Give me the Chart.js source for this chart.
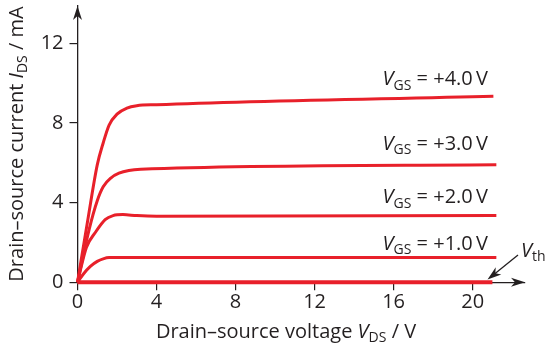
<!DOCTYPE html>
<html>
<head>
<meta charset="utf-8">
<script src="https://cdn.jsdelivr.net/npm/chart.js@4/dist/chart.umd.min.js"></script>
<style>
  html, body { margin: 0; padding: 0; background: #fff; }
  #wrap { width: 549px; height: 348px; position: relative; }
</style>
</head>
<body>
<div id="wrap"><canvas id="chart"></canvas></div>
<script>
// drain-source voltage (V) / current (mA) for each gate voltage
const vds4 = [0, 0.5, 1, 1.3, 1.6, 2, 2.5, 3, 4, 21.05];
const ids4 = [0, 3.0, 5.9, 7.0, 7.9, 8.45, 8.75, 8.87, 8.92, 9.35];
const vds3 = [0, 0.6, 1, 1.3, 1.7, 2.1, 2.6, 3.2, 21.2];
const ids3 = [0, 2.7, 4.1, 4.8, 5.25, 5.48, 5.62, 5.68, 5.9];
const vds2 = [0, 0.45, 0.9, 1.4, 1.8, 2.3, 3, 4, 21.2];
const ids2 = [0, 1.75, 2.5, 3.15, 3.35, 3.4, 3.35, 3.32, 3.36];
const vds1 = [0, 0.3, 0.65, 1, 1.3, 1.6, 21.2];
const ids1 = [0, 0.42, 0.8, 1.05, 1.18, 1.24, 1.24];
const vdsTh = [0, 21];
const idsTh = [0, 0];

const gateLabels = ['+4.0', '+3.0', '+2.0', '+1.0'];
const xTicks = [0, 4, 8, 12, 16, 20];
const yTicks = [0, 4, 8, 12];

const RED = '#e8202a';
const INK = '#231f20';
const FONT = "'Open Sans', sans-serif";

function pts(xs, ys) {
    return xs.map((x, i) => ({ x: x, y: ys[i] }));
}

function series(xs, ys, w) {
    return {
        data: pts(xs, ys),
        borderColor: RED,
        borderWidth: w,
        pointRadius: 0,
        tension: 0.4,
        cubicInterpolationMode: 'monotone',
        clip: 6
    };
}

// draw a run of text pieces: {t, italic, sub}
function richText(ctx, parts, x, y, size, align) {
    const subSize = Math.round(size * 0.7);
    const fontOf = p => (p.italic ? 'italic ' : '') + (p.sub ? subSize : size) + 'px ' + FONT;
    let total = 0;
    parts.forEach(p => { ctx.font = fontOf(p); total += ctx.measureText(p.t).width; });
    let cx = align === 'right' ? x - total : align === 'center' ? x - total / 2 : x;
    ctx.textAlign = 'left';
    ctx.textBaseline = 'alphabetic';
    parts.forEach(p => {
        ctx.font = fontOf(p);
        ctx.fillText(p.t, cx, y + (p.sub ? size * 0.22 : 0));
        cx += ctx.measureText(p.t).width;
    });
}

function arrowHead(ctx, tx, ty, ang) {
    ctx.save();
    ctx.translate(tx, ty);
    ctx.rotate(ang);
    ctx.beginPath();
    ctx.moveTo(0, 0);
    ctx.lineTo(-14, -4.5);
    ctx.lineTo(-10, 0);
    ctx.lineTo(-14, 4.5);
    ctx.closePath();
    ctx.fill();
    ctx.restore();
}

const decor = {
    id: 'decor',
    afterDraw(chart) {
        const ctx = chart.ctx;
        const xs = chart.scales.x, ys = chart.scales.y;
        const a = chart.chartArea;
        ctx.save();
        ctx.fillStyle = INK;
        ctx.strokeStyle = INK;

        // axis arrows
        arrowHead(ctx, a.right, ys.getPixelForValue(0), 0);
        arrowHead(ctx, xs.getPixelForValue(0), a.top, -Math.PI / 2);

        // curve labels
        const ends = [ids4, ids3, ids2, ids1];
        const lift = [11, 15, 12, 8];
        gateLabels.forEach((g, i) => {
            const yEnd = ys.getPixelForValue(ends[i][ends[i].length - 1]);
            richText(ctx, [
                { t: 'V', italic: true },
                { t: 'GS', sub: true },
                { t: ' = ' + g + '\u2009V' }
            ], 488, yEnd - lift[i], 20, 'right');
        });

        // threshold label with pointer
        richText(ctx, [{ t: 'V', italic: true }, { t: 'th', sub: true }], 521, 256.5, 20, 'left');
        ctx.lineWidth = 1.3;
        ctx.beginPath();
        ctx.moveTo(518, 255);
        ctx.lineTo(492, 276);
        ctx.stroke();
        arrowHead(ctx, 487.5, 279.5, Math.atan2(24, -30.5));

        // axis titles
        richText(ctx, [
            { t: 'Drain\u2013source voltage ' },
            { t: 'V', italic: true },
            { t: 'DS', sub: true },
            { t: ' / V' }
        ], 286, 337.5, 20, 'center');

        ctx.translate(23, 144);
        ctx.rotate(-Math.PI / 2);
        richText(ctx, [
            { t: 'Drain\u2013source current ' },
            { t: 'I', italic: true },
            { t: 'DS', sub: true },
            { t: ' / mA' }
        ], 0, 0, 20, 'center');
        ctx.restore();
    }
};

new Chart(document.getElementById('chart'), {
    type: 'scatter',
    data: {
        datasets: [
            series(vds4, ids4, 3),
            series(vds3, ids3, 3),
            series(vds2, ids2, 3),
            series(vds1, ids1, 3),
            series(vdsTh, idsTh, 4)
        ]
    },
    options: {
        responsive: true,
        maintainAspectRatio: false,
        animation: false,
        showLine: true,
        layout: { padding: { top: 6, right: 24, left: 0, bottom: 0 } },
        plugins: { legend: { display: false }, tooltip: { enabled: false } },
        scales: {
            x: {
                type: 'linear',
                min: 0,
                max: 22.65,
                afterBuildTicks: s => { s.ticks = xTicks.map(v => ({ value: v })); },
                afterFit: s => { s.height = 65.7; s.paddingLeft = 0; s.paddingRight = 0; },
                ticks: { autoSkip: false, color: INK, font: { family: FONT, size: 20 }, padding: 0, maxRotation: 0 },
                grid: { drawOnChartArea: false, drawTicks: true, tickLength: 8, color: INK, lineWidth: 1.2 },
                border: { display: true, color: INK, width: 1.3 }
            },
            y: {
                type: 'linear',
                min: 0,
                max: 13.88,
                afterBuildTicks: s => { s.ticks = yTicks.map(v => ({ value: v })); },
                afterFit: s => { s.width = 77.5; s.paddingTop = 0; s.paddingBottom = 0; },
                ticks: { autoSkip: false, color: INK, font: { family: FONT, size: 20 }, padding: 6 },
                grid: { drawOnChartArea: false, drawTicks: true, tickLength: 8, color: INK, lineWidth: 1.2 },
                border: { display: true, color: INK, width: 1.3 }
            }
        }
    },
    plugins: [decor]
});
</script>
</body>
</html>
